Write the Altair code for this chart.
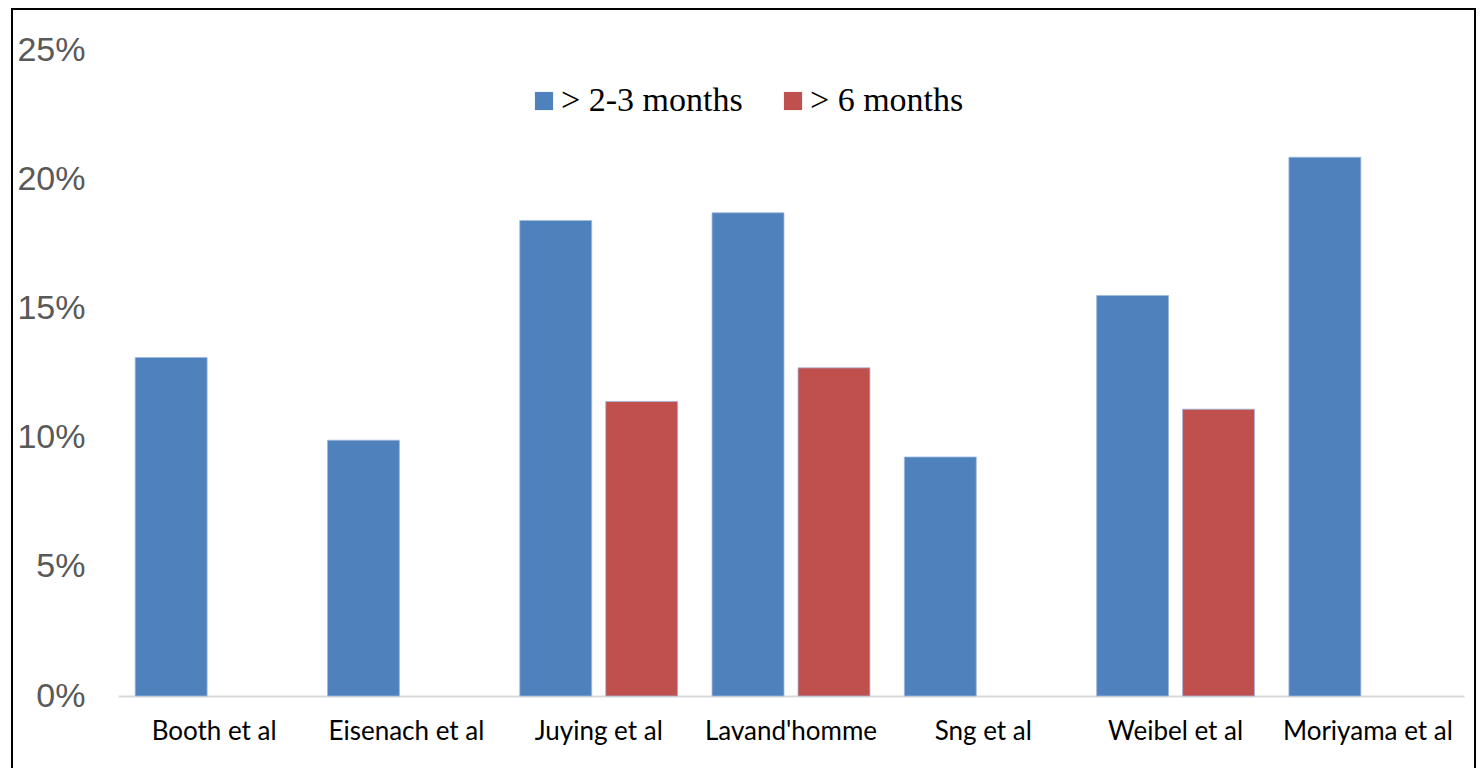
import altair as alt
import pandas as pd

studies = ["Booth et al", "Eisenach et al", "Juying et al", "Lavand'homme",
           "Sng et al", "Weibel et al", "Moriyama et al"]
series = ["> 2-3 months", "> 6 months"]
short_term = [0.131, 0.099, 0.184, 0.187, 0.0925, 0.155, 0.2085]
long_term = [None, None, 0.114, 0.127, None, 0.111, None]
y_ticks = [0, 0.05, 0.10, 0.15, 0.20, 0.25]
colors = ["#4F81BD", "#C0504D"]

rows = []
for s, a, b in zip(studies, short_term, long_term):
    rows.append({"study": s, "series": series[0], "value": a})
    if b is not None:
        rows.append({"study": s, "series": series[1], "value": b})
df = pd.DataFrame(rows)

W, H = 1346, 646

bars = alt.Chart(df).mark_bar(stroke="#9fb9de", strokeWidth=0.8).encode(
    x=alt.X("study:N", sort=studies, title=None,
            scale=alt.Scale(paddingInner=0, paddingOuter=0),
            axis=alt.Axis(labelAngle=0, labelFont="Lato", labelFontSize=26,
                          labelColor="#000000", labelPadding=22, ticks=False,
                          domainColor="#d9d9d9", domainWidth=2)),
    xOffset=alt.XOffset("series:N", sort=series,
                        scale=alt.Scale(domain=series, paddingInner=0.163, paddingOuter=0.2)),
    y=alt.Y("value:Q", title=None,
            scale=alt.Scale(domain=[0, 0.25], nice=False),
            axis=alt.Axis(values=y_ticks, format=".0%", grid=False, domain=False,
                          ticks=False, labelFont="Liberation Sans", labelFontSize=34,
                          labelColor="#595959", labelPadding=33)),
    color=alt.Color("series:N", sort=series,
                    scale=alt.Scale(domain=series, range=colors),
                    legend=alt.Legend(title=None, orient="none", legendX=409, legendY=34,
                                      direction="horizontal", symbolType="square",
                                      symbolSize=330, symbolStrokeWidth=0,
                                      labelFont="Liberation Serif", labelFontSize=34,
                                      labelColor="#000000", labelOffset=0,
                                      columnPadding=33, labelLimit=400)),
)

frame = alt.Chart(alt.Data(values=[{}])).mark_rect(
    fillOpacity=0, stroke="#000000", strokeWidth=2
).encode(
    x=alt.value(-106), x2=alt.value(W + 11),
    y=alt.value(-41), y2=alt.value(H + 100),
)

chart = alt.layer(bars, frame).properties(
    width=W, height=H,
    autosize=alt.AutoSizeParams(type="none"),
    padding={"left": 110, "top": 42, "right": 12, "bottom": 72},
).configure(background="white").configure_view(strokeWidth=0, stroke="transparent")

chart.save("out.html", embed_options={"renderer": "svg", "actions": False})
